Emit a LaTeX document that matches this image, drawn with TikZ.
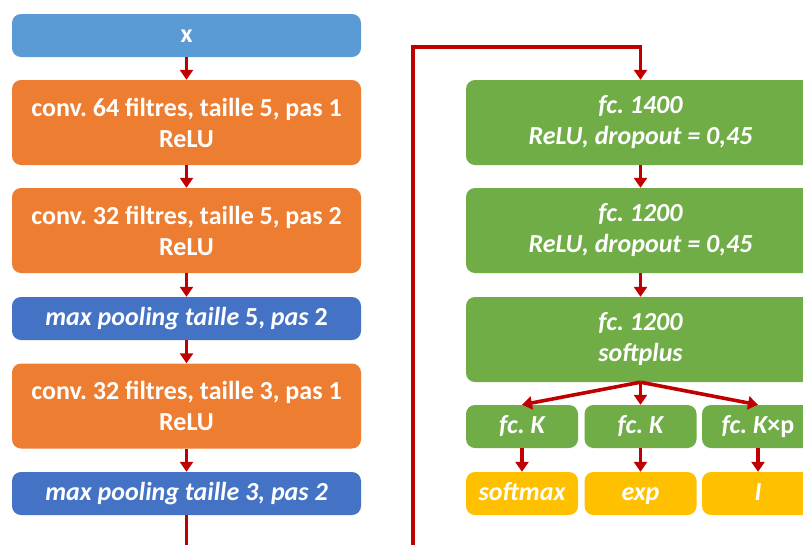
\documentclass[tikz,border=0pt]{standalone}
\usepackage{fontspec}
\setmainfont{Carlito}
\usetikzlibrary{arrows.meta}
\definecolor{cLblue}{HTML}{5B9BD5}
\definecolor{cOrange}{HTML}{ED7D31}
\definecolor{cDblue}{HTML}{4472C4}
\definecolor{cGreen}{HTML}{70AD47}
\definecolor{cYellow}{HTML}{FFC000}
\definecolor{cRed}{HTML}{C00000}
\frenchspacing
\begin{document}
\begin{tikzpicture}[x=1pt,y=-1pt,
  box/.style={rounded corners=9pt, inner sep=0pt, text=white, align=center,
    font=\fontsize{26}{31}\selectfont\bfseries, minimum width=349pt},
  tall/.style={box, minimum height=85pt},
  short/.style={box, minimum height=43pt, text height=19pt, text depth=5pt},
  small/.style={short, minimum width=112pt},
  conn/.style={draw=cRed, line width=3.6pt, -{Triangle[length=10pt,width=13pt]}}]
\useasboundingbox (0,0) rectangle (803,544);
\clip (0,0) rectangle (803,544);
\fill[white] (0,0) rectangle (803,544);
% left column
\node[short, fill=cLblue] (x) at (186.5,35.5) {x};
\node[tall, fill=cOrange] (c1) at (186.5,122.5) {conv. 64 filtres, taille 5, pas 1\\ReLU};
\node[tall, fill=cOrange] (c2) at (186.5,230.5) {conv. 32 filtres, taille 5, pas 2\\ReLU};
\node[short, fill=cDblue] (p1) at (186.5,318.5) {\itshape max pooling taille \upshape 5, \itshape pas \upshape 2};
\node[tall, fill=cOrange] (c3) at (186.5,406) {conv. 32 filtres, taille 3, pas 1\\ReLU};
\node[short, fill=cDblue] (p2) at (186.5,493.5) {\itshape max pooling taille 3, pas 2};
% right column
\node[tall, fill=cGreen] (f1) at (640.5,122.5) {\itshape fc. 1400\\\itshape ReLU, dropout = 0,45};
\node[tall, fill=cGreen] (f2) at (640.5,230.5) {\itshape fc. 1200\\\itshape ReLU, dropout = 0,45};
\node[tall, fill=cGreen] (f3) at (640.5,339.5) {\itshape fc. 1200\\\itshape softplus};
\node[small, fill=cGreen] (k1) at (522,426.5) {\itshape fc. K};
\node[small, fill=cGreen] (k2) at (640.5,426.5) {\itshape fc. K};
\node[small, fill=cGreen] (k3) at (758,426.5) {\itshape fc. K\upshape ×p};
\node[small, fill=cYellow] (o1) at (522,493.5) {\itshape softmax};
\node[small, fill=cYellow] (o2) at (640.5,493.5) {\itshape exp};
\node[small, fill=cYellow] (o3) at (758,493.5) {\itshape I};
% connectors
\draw[conn] (x) -- (c1);
\draw[conn] (c1) -- (c2);
\draw[conn] (c2) -- (p1);
\draw[conn] (p1) -- (c3);
\draw[conn] (c3) -- (p2);
\coordinate (b1) at (186.5,570);
\coordinate (b2) at (413,570);
\coordinate (t1) at (413,47);
\coordinate (t2) at (640.5,47);
\draw[conn, line join=miter] (p2.south) -- (b1) -- (b2) -- (t1) -- (t2) -- (f1.north);
\draw[conn] (f1) -- (f2);
\draw[conn] (f2) -- (f3);
\draw[conn] (f3.south) -- (k1.north);
\draw[conn] (f3.south) -- (k2.north);
\draw[conn] (f3.south) -- (k3.north);
\draw[conn] (k1) -- (o1);
\draw[conn] (k2) -- (o2);
\draw[conn] (k3) -- (o3);
\end{tikzpicture}
\end{document}
